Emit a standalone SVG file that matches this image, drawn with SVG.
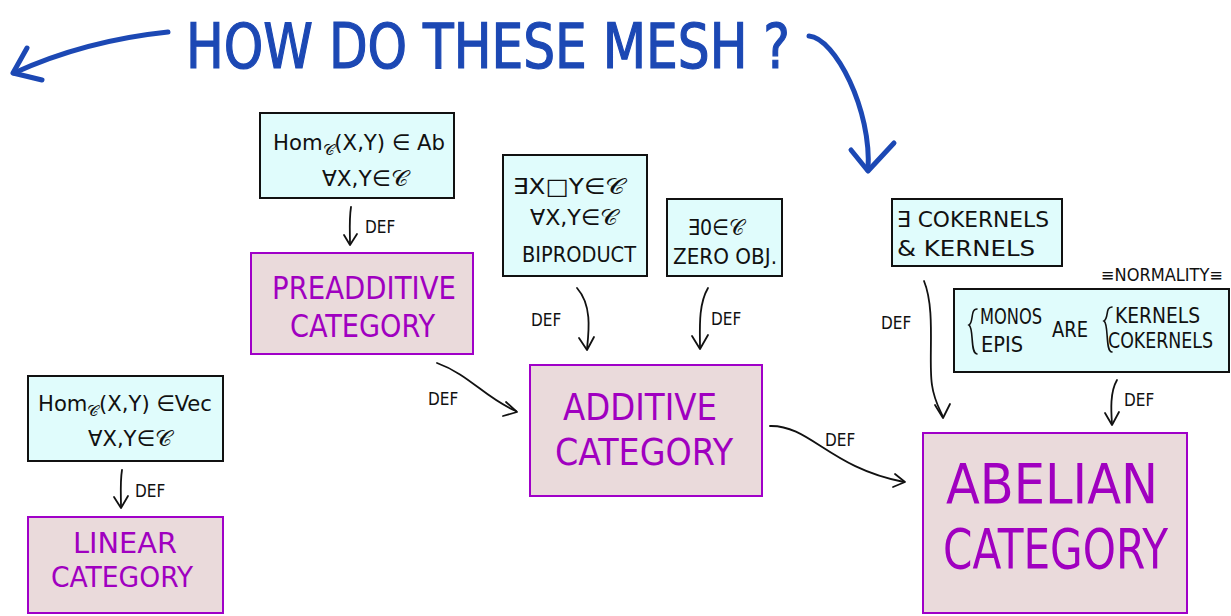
<svg xmlns="http://www.w3.org/2000/svg" width="1231" height="616" viewBox="0 0 1231 616">
  <style>
    .hyp { fill: #e0fcfc; stroke: #111; stroke-width: 2; }
    .cat { fill: #eadadb; stroke: #a000c8; stroke-width: 2; }
    .ht { font-family: "Liberation Sans Narrow", "DejaVu Sans Condensed", "Liberation Sans", sans-serif; font-size: 22px; fill: #111; }
    .ct { font-family: "Liberation Sans Narrow", "DejaVu Sans Condensed", "Liberation Sans", sans-serif; fill: #a000c0; }
    .dl { font-family: "Liberation Sans Narrow", "DejaVu Sans Condensed", "Liberation Sans", sans-serif; font-size: 17px; fill: #111; }
    .ttl { font-family: "Liberation Sans Narrow", "DejaVu Sans Condensed", "Liberation Sans", sans-serif; font-size: 62px; fill: #1c48b4; stroke: #1c48b4; stroke-width: 1.2; }
    .ln { fill: none; stroke: #111; stroke-width: 1.8; stroke-linecap: round; stroke-linejoin: round; }
    .bl { fill: none; stroke: #1c48b4; stroke-width: 5; stroke-linecap: round; stroke-linejoin: round; }
    .br { fill: none; stroke: #111; stroke-width: 1.6; stroke-linecap: round; }
  </style>

  <!-- title with the two blue arrows -->
  <g id="title">
    <text class="ttl" x="186" y="68" textLength="604" lengthAdjust="spacingAndGlyphs">HOW DO THESE MESH ?</text>
    <path class="bl" d="M168,32 C110,38 60,52 14,73"/>
    <path class="bl" d="M27,48 L13,73 L42,80"/>
    <path class="bl" d="M809,36 C835,38 872,110 868,170"/>
    <path class="bl" d="M851,150 L868,171 L894,143"/>
  </g>

  <!-- preadditive -->
  <g id="preadditive-hyp">
    <rect class="hyp" x="260" y="113" width="194" height="85"/>
    <text class="ht" x="273" y="150" textLength="172" lengthAdjust="spacingAndGlyphs">Hom<tspan font-size="15" dy="5">𝒞</tspan><tspan dy="-5">(X,Y) ∈ Ab</tspan></text>
    <text class="ht" x="322" y="186" textLength="86" lengthAdjust="spacingAndGlyphs">∀X,Y∈𝒞</text>
  </g>
  <g id="preadditive">
    <rect class="cat" x="251" y="253" width="222" height="101"/>
    <text class="ct" font-size="32" x="272" y="299" textLength="184" lengthAdjust="spacingAndGlyphs">PREADDITIVE</text>
    <text class="ct" font-size="32" x="290" y="337" textLength="145" lengthAdjust="spacingAndGlyphs">CATEGORY</text>
  </g>

  <!-- additive -->
  <g id="biproduct-hyp">
    <rect class="hyp" x="503" y="155" width="144" height="121"/>
    <text class="ht" x="513" y="194" textLength="112" lengthAdjust="spacingAndGlyphs">∃X□Y∈𝒞</text>
    <text class="ht" x="530" y="225" textLength="88" lengthAdjust="spacingAndGlyphs">∀X,Y∈𝒞</text>
    <text class="ht" x="522" y="262" textLength="114" lengthAdjust="spacingAndGlyphs">BIPRODUCT</text>
  </g>
  <g id="zero-hyp">
    <rect class="hyp" x="667" y="199" width="115" height="77"/>
    <text class="ht" x="688" y="235" textLength="56" lengthAdjust="spacingAndGlyphs">∃0∈𝒞</text>
    <text class="ht" font-size="18" x="673" y="264" textLength="104" lengthAdjust="spacingAndGlyphs">ZERO OBJ.</text>
  </g>
  <g id="additive">
    <rect class="cat" x="530" y="365" width="232" height="131"/>
    <text class="ct" font-size="38" x="563" y="420" textLength="154" lengthAdjust="spacingAndGlyphs">ADDITIVE</text>
    <text class="ct" font-size="38" x="555" y="465" textLength="178" lengthAdjust="spacingAndGlyphs">CATEGORY</text>
  </g>

  <!-- abelian -->
  <g id="kernels-hyp">
    <rect class="hyp" x="892" y="199" width="170" height="67"/>
    <text class="ht" x="897" y="227" textLength="152" lengthAdjust="spacingAndGlyphs">∃ COKERNELS</text>
    <text class="ht" x="897" y="256" textLength="138" lengthAdjust="spacingAndGlyphs">&amp; KERNELS</text>
  </g>
  <g id="normality-hyp">
    <text class="dl" font-size="13" x="1101" y="281" textLength="122" lengthAdjust="spacingAndGlyphs">≡NORMALITY≡</text>
    <rect class="hyp" x="954" y="289" width="275" height="83"/>
    <path class="br" d="M977,309 C970,309 974,322 969,325 C974,328 970,354 977,354"/>
    <text class="ht" font-size="19" x="980" y="324" textLength="62" lengthAdjust="spacingAndGlyphs">MONOS</text>
    <text class="ht" font-size="19" x="981" y="352" textLength="42" lengthAdjust="spacingAndGlyphs">EPIS</text>
    <text class="ht" font-size="19" x="1052" y="337" textLength="36" lengthAdjust="spacingAndGlyphs">ARE</text>
    <path class="br" d="M1112,307 C1105,307 1109,318 1104,321 C1109,324 1105,352 1112,352"/>
    <text class="ht" font-size="19" x="1115" y="323" textLength="85" lengthAdjust="spacingAndGlyphs">KERNELS</text>
    <text class="ht" font-size="19" x="1108" y="348" textLength="105" lengthAdjust="spacingAndGlyphs">COKERNELS</text>
  </g>
  <g id="abelian">
    <rect class="cat" x="923" y="433" width="264" height="180"/>
    <text class="ct" font-size="56" x="946" y="503" textLength="212" lengthAdjust="spacingAndGlyphs">ABELIAN</text>
    <text class="ct" font-size="56" x="943" y="568" textLength="225" lengthAdjust="spacingAndGlyphs">CATEGORY</text>
  </g>

  <!-- linear -->
  <g id="linear-hyp">
    <rect class="hyp" x="28" y="376" width="195" height="85"/>
    <text class="ht" x="38" y="411" textLength="174" lengthAdjust="spacingAndGlyphs">Hom<tspan font-size="15" dy="5">𝒞</tspan><tspan dy="-5">(X,Y) ∈Vec</tspan></text>
    <text class="ht" x="88" y="446" textLength="84" lengthAdjust="spacingAndGlyphs">∀X,Y∈𝒞</text>
  </g>
  <g id="linear">
    <rect class="cat" x="28" y="517" width="195" height="96"/>
    <text class="ct" font-size="29" x="73" y="553" textLength="104" lengthAdjust="spacingAndGlyphs">LINEAR</text>
    <text class="ct" font-size="29" x="51" y="587" textLength="142" lengthAdjust="spacingAndGlyphs">CATEGORY</text>
  </g>

  <!-- DEF connectors -->
  <g id="connectors">
    <path class="ln" d="M351,207 C349,220 350,232 350,244"/>
    <path class="ln" d="M344,235 L350,245 L357,234"/>
    <text class="dl" x="365" y="233">DEF</text>

    <path class="ln" d="M577,288 C592,305 589,330 587,349"/>
    <path class="ln" d="M579,338 L587,350 L594,337"/>
    <text class="dl" x="531" y="326">DEF</text>

    <path class="ln" d="M708,288 C698,305 700,330 700,348"/>
    <path class="ln" d="M692,336 L700,349 L708,335"/>
    <text class="dl" x="711" y="325">DEF</text>

    <path class="ln" d="M437,363 C470,375 485,398 516,411"/>
    <path class="ln" d="M506,402 L517,412 L503,416"/>
    <text class="dl" x="428" y="405">DEF</text>

    <path class="ln" d="M770,426 C810,425 830,468 904,482"/>
    <path class="ln" d="M895,474 L905,482 L893,487"/>
    <text class="dl" x="825" y="446">DEF</text>

    <path class="ln" d="M924,281 C936,310 928,360 932,385 C934,400 940,410 943,417"/>
    <path class="ln" d="M935,405 L943,418 L950,404"/>
    <text class="dl" x="881" y="329">DEF</text>

    <path class="ln" d="M1117,380 C1110,392 1111,410 1112,424"/>
    <path class="ln" d="M1105,413 L1112,425 L1119,412"/>
    <text class="dl" x="1124" y="406">DEF</text>

    <path class="ln" d="M122,470 C120,482 121,495 121,507"/>
    <path class="ln" d="M114,497 L121,508 L128,496"/>
    <text class="dl" x="135" y="497">DEF</text>
  </g>
</svg>
